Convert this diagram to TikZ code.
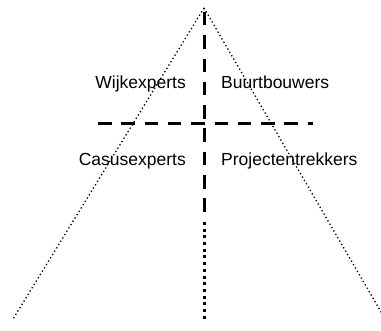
\documentclass[tikz,border=0pt]{standalone}
\usepackage{fontspec}
\setmainfont{Liberation Sans}
\begin{document}
\begin{tikzpicture}[x=1pt,y=-1pt,
  lbl/.style={inner sep=0pt,font=\fontsize{17.5}{21}\selectfont},
  finedots/.style={line width=1.3pt,dash pattern=on 1.3pt off 2.6pt},
  thickdash/.style={line width=3pt,dash pattern=on 13.5pt off 9.8pt},
  thickdots/.style={line width=3pt,dash pattern=on 3pt off 3.7pt}]
\useasboundingbox (0,0) rectangle (381,331);
\coordinate (apex) at (204,8);
\coordinate (bl) at (13,319);
\coordinate (br) at (384,317);
\coordinate (vtop) at (204,12);
\coordinate (vmid) at (204,213);
\coordinate (vdot) at (204,222);
\coordinate (vbot) at (204,322);
\coordinate (hl) at (98,123.3);
\coordinate (hr) at (313,123.3);
\draw[finedots] (apex) -- (bl);
\draw[finedots] (apex) -- (br);
\draw[thickdash] (vtop) -- (vmid);
\draw[thickdots] (vdot) -- (vbot);
\draw[thickdash] (hl) -- (hr);
\node[lbl,anchor=base east] (wijk) at (186,89) {Wijkexperts};
\node[lbl,anchor=base west] (buurt) at (221,89) {Buurtbouwers};
\node[lbl,anchor=base east] (casus) at (186,166) {Casusexperts};
\node[lbl,anchor=base west] (proj) at (221,166) {Projectentrekkers};
\end{tikzpicture}
\end{document}
